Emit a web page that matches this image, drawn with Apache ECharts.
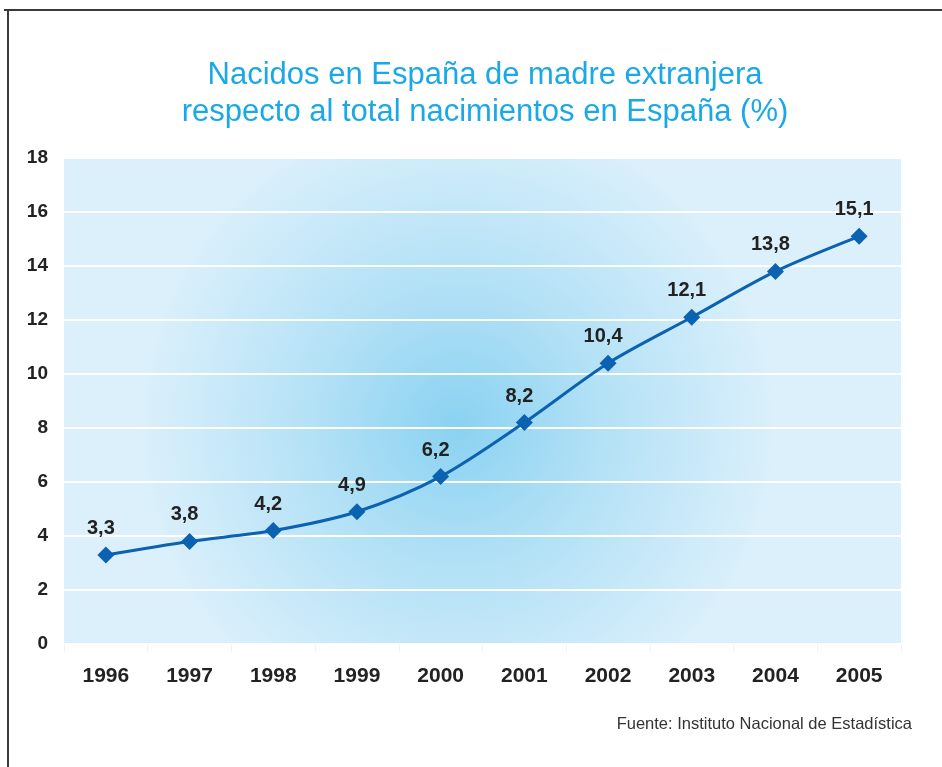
<!DOCTYPE html>
<html>
<head>
<meta charset="utf-8">
<script src="https://cdn.jsdelivr.net/npm/echarts@6/dist/echarts.min.js"></script>
<style>
  html, body { margin: 0; padding: 0; background: #fff; }
  #chart { width: 942px; height: 767px; }
</style>
</head>
<body>
<div id="chart"></div>
<script>
// datos
var years = ['1996', '1997', '1998', '1999', '2000', '2001', '2002', '2003', '2004', '2005'];
var pct = [3.3, 3.8, 4.2, 4.9, 6.2, 8.2, 10.4, 12.1, 13.8, 15.1];

var chart = echarts.init(document.getElementById('chart'));

chart.setOption({
  backgroundColor: '#ffffff',
  animation: false,
  title: {
    text: 'Nacidos en España de madre extranjera\nrespecto al total nacimientos en España (%)',
    left: 480,
    top: 52,
    textAlign: 'center',
    textStyle: {
      fontFamily: 'Liberation Sans',
      fontWeight: 'normal',
      fontSize: 31,
      lineHeight: 37,
      color: '#1aa8e6'
    }
  },
  graphic: [
    { type: 'line', shape: { x1: 8, y1: 10, x2: 8, y2: 767 }, style: { stroke: '#3a3a3a', lineWidth: 2 } },
    { type: 'line', shape: { x1: 4, y1: 10, x2: 942, y2: 10 }, style: { stroke: '#3a3a3a', lineWidth: 2 } },
    {
      type: 'text', right: 30, top: 716,
      style: { text: 'Fuente: Instituto Nacional de Estadística', font: '16.5px "Liberation Sans"', fill: '#333' }
    }
  ],
  grid: {
    left: 64, right: 41, top: 158, bottom: 123,
    show: true,
    borderWidth: 0,
    backgroundColor: new echarts.graphic.RadialGradient(0.47, 0.55, 0.66, [
      { offset: 0, color: '#8ad2f1' },
      { offset: 0.45, color: '#b3e1f6' },
      { offset: 1, color: '#dbf0fb' }
    ])
  },
  xAxis: {
    type: 'category',
    data: years,
    boundaryGap: true,
    axisLine: { show: false },
    axisTick: { show: true, length: 8, lineStyle: { color: '#f0f4f6' } },
    axisLabel: {
      margin: 22,
      fontFamily: 'Liberation Sans',
      fontWeight: 'bold',
      fontSize: 21,
      color: '#222'
    }
  },
  yAxis: {
    type: 'value',
    min: 0, max: 18, interval: 2,
    axisLine: { show: false },
    axisTick: { show: false },
    splitLine: { lineStyle: { color: '#ffffff', width: 2 } },
    axisLabel: {
      margin: 16,
      fontFamily: 'Liberation Sans',
      fontWeight: 'bold',
      fontSize: 19,
      color: '#222'
    }
  },
  series: [{
    type: 'line',
    data: pct,
    smooth: 0.3,
    symbol: 'diamond',
    symbolSize: 17,
    lineStyle: { color: '#0a62b0', width: 3 },
    itemStyle: { color: '#0a62b0' },
    label: {
      show: true,
      position: 'top',
      distance: 8,
      offset: [-5, 0],
      formatter: function (p) { return String(p.value).replace('.', ','); },
      fontFamily: 'Liberation Sans',
      fontWeight: 'bold',
      fontSize: 20,
      color: '#222'
    }
  }]
});
</script>
</body>
</html>
